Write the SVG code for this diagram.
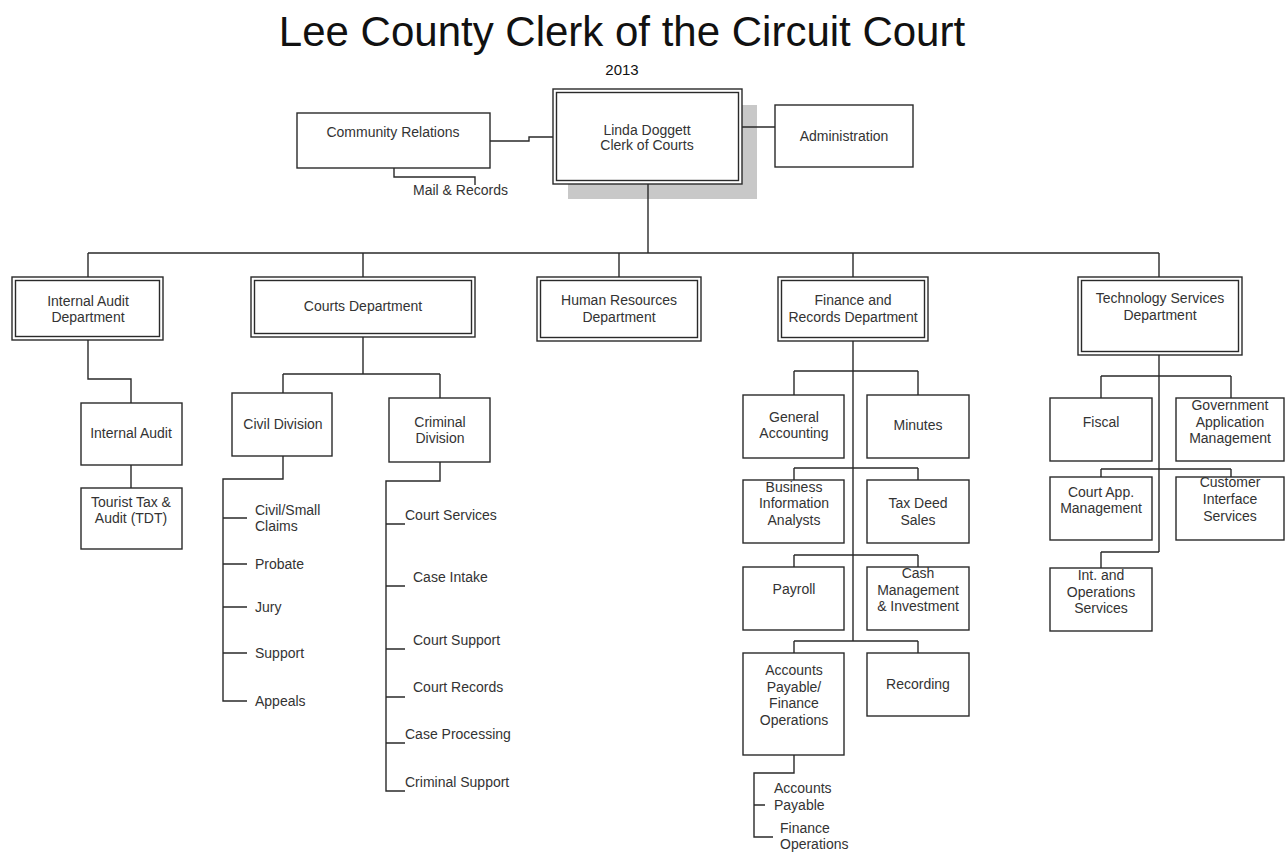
<svg xmlns="http://www.w3.org/2000/svg" width="1286" height="852" viewBox="0 0 1286 852">
<style>
.b{fill:#fff;stroke:#2a2a2a;stroke-width:1.4}
.c{fill:none;stroke:#2a2a2a;stroke-width:1.4}
text{font-family:"Liberation Sans",Arial,sans-serif;font-size:14px;fill:#333}
.m{text-anchor:middle}
</style>
<rect width="1286" height="852" fill="#fff"/>
<text x="622" y="46" class="m" style="font-size:42px;fill:#111">Lee County Clerk of the Circuit Court</text>
<text x="622" y="75" class="m" style="font-size:15px;fill:#111">2013</text>

<g id="community-relations">
<rect class="b" x="297" y="113" width="193" height="55"/>
<text x="393" y="137" class="m">Community Relations</text>
</g>
<g id="mail-records">
<text x="413" y="195">Mail &amp; Records</text>
</g>
<g id="clerk">
<rect x="568" y="105" width="189" height="94" fill="#c8c8c8"/>
<rect class="b" x="553" y="89" width="189" height="95"/>
<rect class="b" x="556.5" y="92.5" width="182" height="88"/>
<text x="647" y="135" class="m">Linda Doggett</text>
<text x="647" y="150" class="m">Clerk of Courts</text>
</g>
<g id="administration">
<rect class="b" x="775" y="105" width="138" height="62"/>
<text x="844" y="141" class="m">Administration</text>
</g>

<g id="internal-audit-dept">
<rect class="b" x="12" y="277" width="151" height="63"/>
<rect class="b" x="15.5" y="280.5" width="144" height="56"/>
<text x="88" y="306" class="m">Internal Audit</text>
<text x="88" y="322" class="m">Department</text>
</g>
<g id="courts-dept">
<rect class="b" x="251" y="277" width="224" height="60"/>
<rect class="b" x="254.5" y="280.5" width="217" height="53"/>
<text x="363" y="311" class="m">Courts Department</text>
</g>
<g id="hr-dept">
<rect class="b" x="537" y="277" width="164" height="64"/>
<rect class="b" x="540.5" y="280.5" width="157" height="57"/>
<text x="619" y="305" class="m">Human Resources</text>
<text x="619" y="322" class="m">Department</text>
</g>
<g id="finance-dept">
<rect class="b" x="778" y="277" width="150" height="64"/>
<rect class="b" x="781.5" y="280.5" width="143" height="57"/>
<text x="853" y="305" class="m">Finance and</text>
<text x="853" y="322" class="m">Records Department</text>
</g>
<g id="tech-dept">
<rect class="b" x="1078" y="277" width="164" height="78"/>
<rect class="b" x="1081.5" y="280.5" width="157" height="71"/>
<text x="1160" y="303" class="m">Technology Services</text>
<text x="1160" y="320" class="m">Department</text>
</g>

<g id="internal-audit">
<rect class="b" x="81" y="403" width="101" height="62"/>
<text x="131" y="438" class="m">Internal Audit</text>
</g>
<g id="tourist-tax">
<rect class="b" x="81" y="488" width="101" height="61"/>
<text x="131" y="507" class="m">Tourist Tax &amp;</text>
<text x="131" y="523" class="m">Audit (TDT)</text>
</g>

<g id="civil-division">
<rect class="b" x="232" y="393" width="100" height="63"/>
<text x="283" y="429" class="m">Civil Division</text>
</g>
<g id="civil-items">
<text x="255" y="515">Civil/Small</text>
<text x="255" y="531">Claims</text>
<text x="255" y="569">Probate</text>
<text x="255" y="612">Jury</text>
<text x="255" y="658">Support</text>
<text x="255" y="706">Appeals</text>
</g>
<g id="criminal-division">
<rect class="b" x="389" y="398" width="101" height="64"/>
<text x="440" y="427" class="m">Criminal</text>
<text x="440" y="443" class="m">Division</text>
</g>
<g id="criminal-items">
<text x="405" y="520">Court Services</text>
<text x="413" y="582">Case Intake</text>
<text x="413" y="645">Court Support</text>
<text x="413" y="692">Court Records</text>
<text x="405" y="739">Case Processing</text>
<text x="405" y="787">Criminal Support</text>
</g>

<g id="general-accounting">
<rect class="b" x="743" y="395" width="101" height="63"/>
<text x="794" y="422" class="m">General</text>
<text x="794" y="438" class="m">Accounting</text>
</g>
<g id="minutes">
<rect class="b" x="867" y="395" width="102" height="63"/>
<text x="918" y="430" class="m">Minutes</text>
</g>
<g id="business-info">
<rect class="b" x="743" y="480" width="101" height="63"/>
<text x="794" y="492" class="m">Business</text>
<text x="794" y="508" class="m">Information</text>
<text x="794" y="525" class="m">Analysts</text>
</g>
<g id="tax-deed">
<rect class="b" x="867" y="480" width="102" height="63"/>
<text x="918" y="508" class="m">Tax Deed</text>
<text x="918" y="525" class="m">Sales</text>
</g>
<g id="payroll">
<rect class="b" x="743" y="567" width="101" height="63"/>
<text x="794" y="594" class="m">Payroll</text>
</g>
<g id="cash-management">
<rect class="b" x="867" y="567" width="102" height="63"/>
<text x="918" y="578" class="m">Cash</text>
<text x="918" y="595" class="m">Management</text>
<text x="918" y="611" class="m">&amp; Investment</text>
</g>
<g id="accounts-payable-fo">
<rect class="b" x="743" y="653" width="101" height="102"/>
<text x="794" y="675" class="m">Accounts</text>
<text x="794" y="692" class="m">Payable/</text>
<text x="794" y="708" class="m">Finance</text>
<text x="794" y="725" class="m">Operations</text>
</g>
<g id="recording">
<rect class="b" x="867" y="653" width="102" height="63"/>
<text x="918" y="689" class="m">Recording</text>
</g>
<g id="ap-items">
<text x="774" y="793">Accounts</text>
<text x="774" y="810">Payable</text>
<text x="780" y="833">Finance</text>
<text x="780" y="849">Operations</text>
</g>

<g id="fiscal">
<rect class="b" x="1050" y="398" width="102" height="63"/>
<text x="1101" y="427" class="m">Fiscal</text>
</g>
<g id="gov-app">
<rect class="b" x="1176" y="398" width="108" height="63"/>
<text x="1230" y="410" class="m">Government</text>
<text x="1230" y="427" class="m">Application</text>
<text x="1230" y="443" class="m">Management</text>
</g>
<g id="court-app">
<rect class="b" x="1050" y="477" width="102" height="63"/>
<text x="1101" y="497" class="m">Court App.</text>
<text x="1101" y="513" class="m">Management</text>
</g>
<g id="customer-interface">
<rect class="b" x="1176" y="477" width="108" height="63"/>
<text x="1230" y="487" class="m">Customer</text>
<text x="1230" y="504" class="m">Interface</text>
<text x="1230" y="521" class="m">Services</text>
</g>
<g id="int-ops">
<rect class="b" x="1050" y="568" width="102" height="63"/>
<text x="1101" y="580" class="m">Int. and</text>
<text x="1101" y="597" class="m">Operations</text>
<text x="1101" y="613" class="m">Services</text>
</g>

<g id="connectors">
<path class="c" d="M490,141H529V137H553"/>
<path class="c" d="M394,168V177H475V185"/>
<path class="c" d="M742,127H775"/>
<path class="c" d="M648,184V253"/>
<path class="c" d="M88,253H1159M88,253V277M363,253V277M619,253V277M853,253V277M1159,253V277"/>
<path class="c" d="M88,340V379H131V403M131,465V488"/>
<path class="c" d="M363,337V374M283,374H440M283,374V393M440,374V398"/>
<path class="c" d="M283,456V479H223V701H247M223,518H247M223,564H247M223,607H247M223,653H247"/>
<path class="c" d="M440,462V481H386V791H405M386,524H405M386,586H405M386,649H405M386,697H405M386,743H405"/>
<path class="c" d="M853,341V641M794,371H918M794,371V395M918,371V395M794,468H918M794,468V480M918,468V480M794,555H918M794,555V567M918,555V567M794,641H918M794,641V653M918,641V653"/>
<path class="c" d="M794,755V773H754V837H773M754,805H765"/>
<path class="c" d="M1159,355V552M1101,376H1231M1101,376V398M1231,376V398M1101,469H1231M1101,469V477M1231,469V477M1101,552H1159M1101,552V568"/>
</g>
</svg>
